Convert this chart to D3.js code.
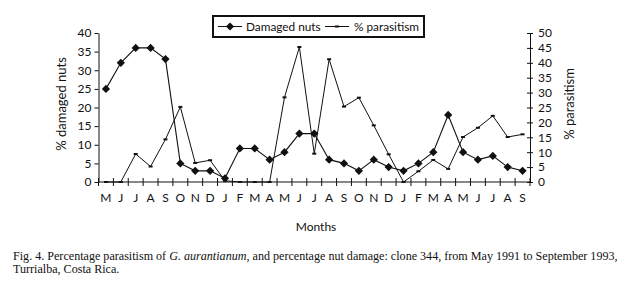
<!DOCTYPE html>
<html>
<head>
<meta charset="utf-8">
<script src="https://cdn.jsdelivr.net/npm/d3@7"></script>
<style>
  body { margin: 0; background: #fff; }
  svg text { fill: #111; }
</style>
</head>
<body>
<div id="chart"></div>
<script>
// Month labels, May 1991 to September 1993
const months = ['M','J','J','A','S','O','N','D','J','F','M','A','M','J','J','A','S','O','N','D','J','F','M','A','M','J','J','A','S'];

// % damaged nuts (left axis)
const damagedNuts = [25, 32, 36, 36, 33, 5, 3, 3, 1, 9, 9, 6, 8, 13, 13, 6, 5, 3, 6, 4, 3, 5, 8, 18, 8, 6, 7, 4, 3];

// % parasitism (right axis)
const parasitism = [0, 0, 9.4, 5.2, 14.3, 25.2, 6.4, 7.3, 0.4, 0, 0, 0, 28.4, 45.3, 9.5, 41.2, 25.3, 28.3, 19, 9.3, 0, 3.6, 7.4, 4.4, 15.1, 18.2, 22.2, 15.1, 16];

const leftTicks = [0, 5, 10, 15, 20, 25, 30, 35, 40];
const rightTicks = [0, 5, 10, 15, 20, 25, 30, 35, 40, 45, 50];

const svgWidth = 625;
const svgHeight = 288;
const sans = 'Lato, "Open Sans", sans-serif';
const serif = '"Liberation Serif", "Times New Roman", serif';

const svg = d3.select('#chart')
    .append('svg')
    .attr('width', svgWidth)
    .attr('height', svgHeight)
    .style('font-family', sans);

const x0 = 98.5, x1 = 530, yTop = 33, yBottom = 182;

// Scales
const xScale = d3.scaleBand()
    .domain(d3.range(months.length))
    .range([x0, x1]);

const yLeft = d3.scaleLinear().domain([0, 40]).range([yBottom, yTop]);
const yRight = d3.scaleLinear().domain([0, 50]).range([yBottom, yTop]);

const xc = i => xScale(i) + xScale.bandwidth() / 2;

// Left axis
const leftAxis = svg.append('g')
    .attr('transform', `translate(${x0},0)`)
    .call(d3.axisLeft(yLeft).tickValues(leftTicks).tickSize(4).tickPadding(3).tickSizeOuter(0));

// Right axis, ticks crossing the line
const rightAxis = svg.append('g')
    .attr('transform', `translate(${x1},0)`)
    .call(d3.axisRight(yRight).tickValues(rightTicks).tickSize(3).tickPadding(5).tickSizeOuter(0));
rightAxis.selectAll('.tick line').attr('x1', -3);

// X axis, ticks at category edges crossing the line
const xAxis = svg.append('g')
    .attr('transform', `translate(0,${yBottom})`);
xAxis.append('line')
    .attr('x1', x0).attr('x2', x1)
    .attr('stroke', '#111');
xAxis.selectAll('line.tk')
    .data(d3.range(months.length + 1))
    .join('line')
    .attr('class', 'tk')
    .attr('x1', i => x0 + i * xScale.step())
    .attr('x2', i => x0 + i * xScale.step())
    .attr('y1', -4).attr('y2', 4)
    .attr('stroke', '#111');
xAxis.selectAll('text')
    .data(months)
    .join('text')
    .attr('x', (d, i) => xc(i))
    .attr('y', 20)
    .attr('text-anchor', 'middle')
    .style('font-size', '12px')
    .text(d => d);

[leftAxis, rightAxis].forEach(a => {
    a.select('.domain').attr('stroke', '#111');
    a.selectAll('.tick line').attr('stroke', '#111');
    a.selectAll('.tick text')
        .style('font-size', '12px')
        .style('font-family', sans);
});

// Lines
const lineNuts = d3.line().x((d, i) => xc(i)).y(d => yLeft(d));
const linePar = d3.line().x((d, i) => xc(i)).y(d => yRight(d));

svg.append('path')
    .datum(parasitism)
    .attr('d', linePar)
    .attr('fill', 'none')
    .attr('stroke', '#111')
    .attr('stroke-width', 1);

svg.append('path')
    .datum(damagedNuts)
    .attr('d', lineNuts)
    .attr('fill', 'none')
    .attr('stroke', '#111')
    .attr('stroke-width', 1.1);

// Markers: square turned 45 degrees
const diamond = d3.symbol().type(d3.symbolSquare).size(34);

svg.append('g')
    .selectAll('path')
    .data(damagedNuts)
    .join('path')
    .attr('d', diamond)
    .attr('transform', (d, i) => `translate(${xc(i)},${yLeft(d)}) rotate(45)`)
    .attr('fill', '#111');

svg.append('g')
    .selectAll('rect')
    .data(parasitism)
    .join('rect')
    .attr('x', (d, i) => xc(i) - 2)
    .attr('y', d => yRight(d) - 1)
    .attr('width', 4)
    .attr('height', 2)
    .attr('fill', '#111');

// Axis titles
svg.append('text')
    .attr('transform', 'translate(66,104) rotate(-90)')
    .attr('text-anchor', 'middle')
    .style('font-size', '13px')
    .text('% damaged nuts');

svg.append('text')
    .attr('transform', 'translate(574,104) rotate(-90)')
    .attr('text-anchor', 'middle')
    .style('font-size', '13px')
    .text('% parasitism');

svg.append('text')
    .attr('x', 316)
    .attr('y', 231)
    .attr('text-anchor', 'middle')
    .style('font-size', '12px')
    .text('Months');

// Legend
const legend = svg.append('g');
legend.append('rect')
    .attr('x', 213).attr('y', 16)
    .attr('width', 211).attr('height', 21)
    .attr('fill', '#fff')
    .attr('stroke', '#111')
    .attr('stroke-width', 2);
legend.append('line')
    .attr('x1', 218).attr('x2', 242).attr('y1', 26.5).attr('y2', 26.5)
    .attr('stroke', '#111');
legend.append('path')
    .attr('d', diamond)
    .attr('transform', 'translate(230,26.5) rotate(45)')
    .attr('fill', '#111');
legend.append('text')
    .attr('x', 246).attr('y', 30.5)
    .style('font-size', '11.8px')
    .text('Damaged nuts');
legend.append('line')
    .attr('x1', 325).attr('x2', 349).attr('y1', 26.5).attr('y2', 26.5)
    .attr('stroke', '#111');
legend.append('rect')
    .attr('x', 335).attr('y', 25.5).attr('width', 4).attr('height', 2)
    .attr('fill', '#111');
legend.append('text')
    .attr('x', 354).attr('y', 30.5)
    .style('font-size', '11.8px')
    .text('% parasitism');

// Caption
const caption = svg.append('text')
    .attr('x', 13)
    .attr('y', 260)
    .style('font-family', serif)
    .style('font-size', '12.1px');
caption.append('tspan').text('Fig. 4. Percentage parasitism of ');
caption.append('tspan').style('font-style', 'italic').text('G. aurantianum');
caption.append('tspan').text(', and percentage nut damage: clone 344, from May 1991 to September 1993,');

svg.append('text')
    .attr('x', 13)
    .attr('y', 273)
    .style('font-family', serif)
    .style('font-size', '12.1px')
    .text('Turrialba, Costa Rica.');
</script>
</body>
</html>
